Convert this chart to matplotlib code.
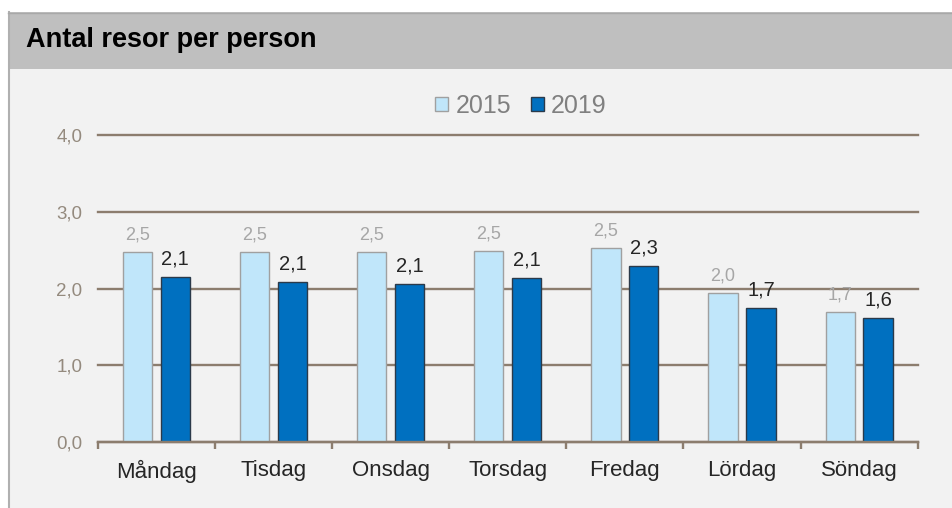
import matplotlib
matplotlib.use("Agg")
import matplotlib.pyplot as plt
from matplotlib.patches import Rectangle
import numpy as np

plt.rcParams['font.family'] = ['Liberation Sans', 'DejaVu Sans']

days = ["Måndag", "Tisdag", "Onsdag", "Torsdag", "Fredag", "Lördag", "Söndag"]
v2015 = [2.47, 2.47, 2.47, 2.49, 2.53, 1.94, 1.69]
v2019 = [2.15, 2.09, 2.06, 2.14, 2.29, 1.74, 1.62]
lab2015 = ["2,5", "2,5", "2,5", "2,5", "2,5", "2,0", "1,7"]
lab2019 = ["2,1", "2,1", "2,1", "2,1", "2,3", "1,7", "1,6"]
yticks = [0, 1, 2, 3, 4]
yticklabels = ["0,0", "1,0", "2,0", "3,0", "4,0"]
title = "Antal resor per person"
series = ["2015", "2019"]

W, H = 953, 508
fig = plt.figure(figsize=(W / 100, H / 100), dpi=100)
fig.patch.set_facecolor("white")

def fx(px):
    return px / W

def fy(py):
    return 1 - py / H

# panel background
fig.add_artist(Rectangle((fx(8), 0), fx(W - 8), fy(12), transform=fig.transFigure,
                         facecolor="#f2f2f2", edgecolor="none", zorder=0))
# title bar
fig.add_artist(Rectangle((fx(8), fy(69)), fx(W - 8), (69 - 12) / H, transform=fig.transFigure,
                         facecolor="#bfbfbf", edgecolor="none", zorder=0))
# borders
fig.add_artist(plt.Line2D([fx(9), fx(9)], [0, fy(12)], transform=fig.transFigure,
                          color="#b0b0b0", lw=1.5, zorder=1))
fig.add_artist(plt.Line2D([fx(8), 1], [fy(12.5), fy(12.5)], transform=fig.transFigure,
                          color="#a8a8a8", lw=1.0, zorder=1))

fig.text(fx(26), fy(46.7), title, fontsize=19.5, fontweight="bold", color="black",
         va="baseline", ha="left")

ax = fig.add_axes([fx(97.7), fy(442), fx(917.7 - 97.7), (442 - 135) / H])
ax.set_facecolor("none")

x = np.arange(len(days))
off = 0.162
bw = 0.25
b1 = ax.bar(x - off, v2015, bw, color="#c0e6fa", edgecolor="#a0a0a0", linewidth=1.0, zorder=3, label=series[0])
b2 = ax.bar(x + off, v2019, bw, color="#0070c0", edgecolor="#2b3a4a", linewidth=1.0, zorder=3, label=series[1])

for xi, v, t in zip(x, v2015, lab2015):
    ax.annotate(t, (xi - off, v), xytext=(0, 9), textcoords="offset points",
                ha="center", va="baseline", fontsize=13, color="#a6a6a6")
for xi, v, t in zip(x, v2019, lab2019):
    ax.annotate(t, (xi + off, v), xytext=(0, 9), textcoords="offset points",
                ha="center", va="baseline", fontsize=14.5, color="#262626")

ax.set_xlim(-0.5, len(days) - 0.5)
ax.set_ylim(0, 4)
ax.set_yticks(yticks)
ax.set_yticklabels(yticklabels)
ax.tick_params(axis="y", length=0, pad=11, labelsize=13.5, labelcolor="#948a7e")
ax.yaxis.grid(True, color="#8c7d6e", linewidth=1.7, zorder=1)
for gl in ax.get_ygridlines():
    gl.set_clip_on(False)
ax.set_axisbelow(True)

ax.set_xticks(x)
ax.set_xticklabels(days)
ax.tick_params(axis="x", which="major", length=0, pad=13, labelsize=16, labelcolor="#262626")
ax.set_xticks(np.arange(-0.5, len(days)), minor=True)
ax.tick_params(axis="x", which="minor", length=5, width=1.7, color="#8c7d6e", direction="out")

for s in ["left", "right", "top"]:
    ax.spines[s].set_visible(False)
ax.spines["bottom"].set_color("#8c7d6e")
ax.spines["bottom"].set_linewidth(1.7)
ax.spines["bottom"].set_zorder(4)

leg = fig.legend(handles=[b1, b2], labels=series, loc="center",
                 bbox_to_anchor=(fx(521), fy(106)), ncol=2, frameon=False,
                 fontsize=18, handlelength=0.5, handleheight=0.5,
                 handletextpad=0.3, columnspacing=0.8, labelcolor="#808080")

fig.savefig("out.png", dpi=100, facecolor=fig.get_facecolor())
